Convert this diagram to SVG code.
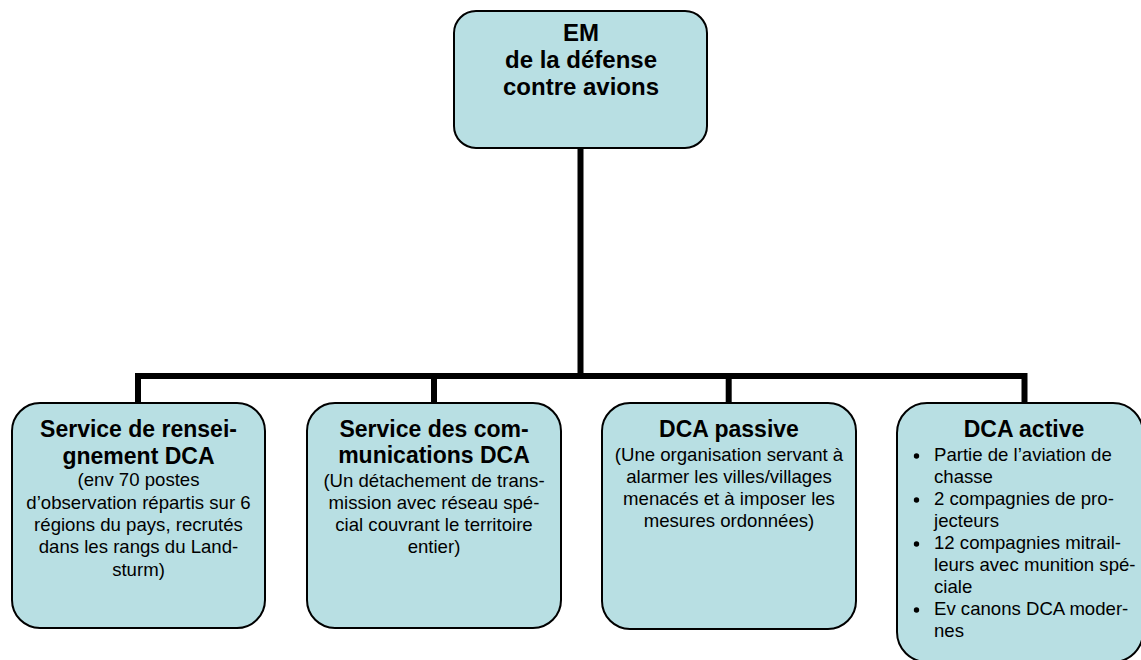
<svg xmlns="http://www.w3.org/2000/svg" width="1141" height="660" viewBox="0 0 1141 660">
<style>
.box{fill:#B8DFE3;stroke:#000;stroke-width:2}
.t{font-family:"Liberation Sans",Arial,sans-serif;fill:#000}
.h{font-size:23px;font-weight:bold;text-anchor:middle}
.top{font-size:24px;font-weight:bold;text-anchor:middle}
.r{font-size:18.6px;text-anchor:middle}
.l{font-size:18.6px}
.conn{fill:none;stroke:#000;stroke-width:6;stroke-linejoin:miter;stroke-linecap:butt}
</style>
<rect width="1141" height="660" fill="#fff"/>
<g id="connectors">
<path class="conn" d="M580.5,148 V376"/>
<path class="conn" d="M138,403 V376 H1024.5 V403"/>
<path class="conn" d="M434,376 V403"/>
<path class="conn" d="M728.7,376 V403"/>
</g>
<g id="node-em">
<rect class="box" x="454" y="11" width="253" height="137" rx="22"/>
<text class="t top" x="581" y="41">EM</text>
<text class="t top" x="581" y="68">de la défense</text>
<text class="t top" x="581" y="95">contre avions</text>
</g>
<g id="node-renseignement">
<rect class="box" x="12" y="403" width="253" height="225" rx="28"/>
<text class="t h" x="138.5" y="437">Service de rensei-</text>
<text class="t h" x="138.5" y="464">gnement DCA</text>
<text class="t r" x="138.5" y="486">(env 70 postes</text>
<text class="t r" x="138.5" y="509">d’observation répartis sur 6</text>
<text class="t r" x="138.5" y="531">régions du pays, recrutés</text>
<text class="t r" x="138.5" y="553">dans les rangs du Land-</text>
<text class="t r" x="138.5" y="576">sturm)</text>
</g>
<g id="node-communications">
<rect class="box" x="307" y="403" width="254" height="225" rx="28"/>
<text class="t h" x="434" y="437">Service des com-</text>
<text class="t h" x="434" y="463">munications DCA</text>
<text class="t r" x="434" y="487">(Un détachement de trans-</text>
<text class="t r" x="434" y="509">mission avec réseau spé-</text>
<text class="t r" x="434" y="531">cial couvrant le territoire</text>
<text class="t r" x="434" y="553">entier)</text>
</g>
<g id="node-passive">
<rect class="box" x="602" y="403" width="254" height="226" rx="28"/>
<text class="t h" x="729" y="437">DCA passive</text>
<text class="t r" x="729" y="461">(Une organisation servant à</text>
<text class="t r" x="729" y="483">alarmer les villes/villages</text>
<text class="t r" x="729" y="505">menacés et à imposer les</text>
<text class="t r" x="729" y="527">mesures ordonnées)</text>
</g>
<g id="node-active">
<rect class="box" x="897" y="403" width="246" height="259" rx="30"/>
<text class="t h" x="1024" y="437">DCA active</text>
<g fill="#000">
<circle cx="916.5" cy="456" r="2.7"/>
<circle cx="916.5" cy="500" r="2.7"/>
<circle cx="916.5" cy="544" r="2.7"/>
<circle cx="916.5" cy="610" r="2.7"/>
</g>
<text class="t l" x="934" y="461">Partie de l’aviation de</text>
<text class="t l" x="934" y="483">chasse</text>
<text class="t l" x="934" y="505">2 compagnies de pro-</text>
<text class="t l" x="934" y="527">jecteurs</text>
<text class="t l" x="934" y="549">12 compagnies mitrail-</text>
<text class="t l" x="934" y="571">leurs avec munition spé-</text>
<text class="t l" x="934" y="593">ciale</text>
<text class="t l" x="934" y="615">Ev canons DCA moder-</text>
<text class="t l" x="934" y="637">nes</text>
</g>
</svg>
